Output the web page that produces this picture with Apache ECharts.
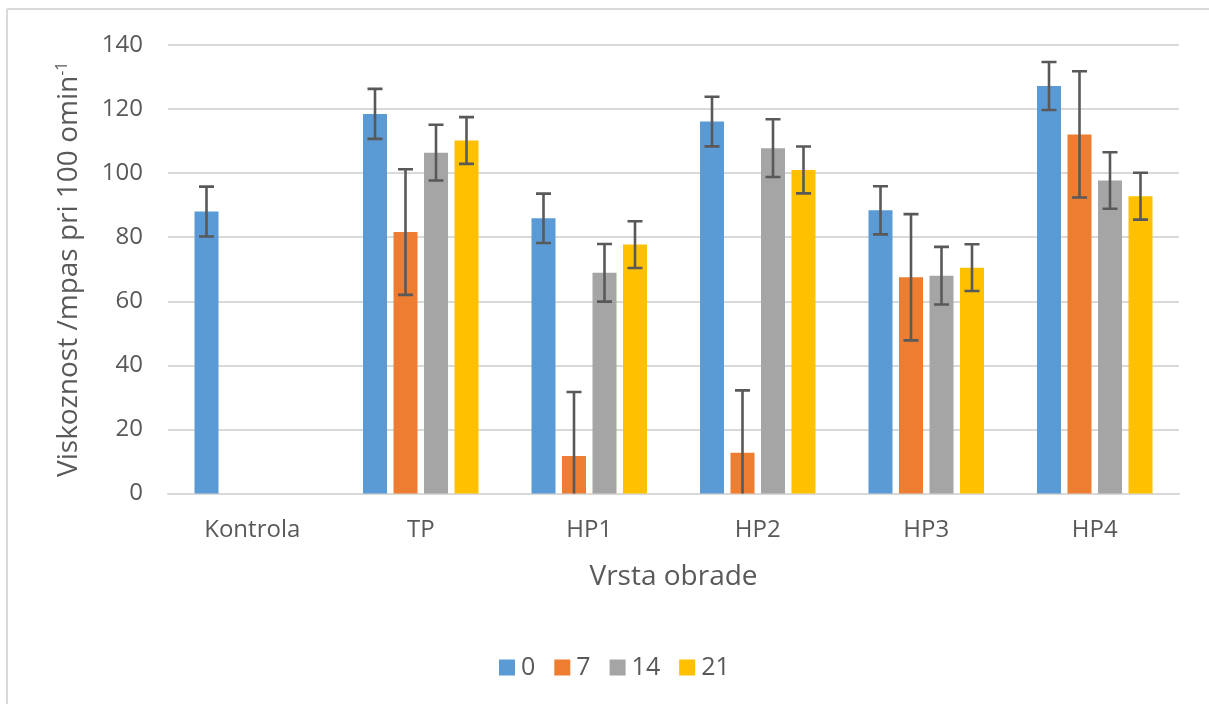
<!DOCTYPE html>
<html>
<head>
<meta charset="utf-8">
<script src="https://cdn.jsdelivr.net/npm/echarts@6/dist/echarts.min.js"></script>
<style>
html,body{margin:0;padding:0;background:#fff;}
#chart{width:1209px;height:704px;}
</style>
</head>
<body>
<div id="chart"></div>
<script>
var categories = ['Kontrola', 'TP', 'HP1', 'HP2', 'HP3', 'HP4'];
var seriesNames = ['0', '7', '14', '21'];
var values0  = [88.0, 118.5, 85.9, 116.1, 88.4, 127.2];
var values7  = [null, 81.6, 11.7, 12.7, 67.5, 112.1];
var values14 = [null, 106.4, 68.9, 107.8, 68.0, 97.7];
var values21 = [null, 110.2, 77.7, 101.0, 70.5, 92.8];
var err0  = [7.8, 7.8, 7.7, 7.75, 7.5, 7.5];
var err7  = [null, 19.6, 20.0, 19.5, 19.7, 19.7];
var err14 = [null, 8.7, 9.0, 9.0, 9.0, 8.8];
var err21 = [null, 7.3, 7.3, 7.3, 7.3, 7.3];
var yTicks = [0, 20, 40, 60, 80, 100, 120, 140];

var colors = ['#5b9bd5', '#ed7d31', '#a5a5a5', '#ffc000'];
var allValues = [values0, values7, values14, values21];
var allErr = [err0, err7, err14, err21];
var BAR_W = 24;
var GAP = 6.5;
var FONT = '"Open Sans", Lato, sans-serif';

var series = [];
seriesNames.forEach(function (name, i) {
  series.push({
    name: name,
    type: 'bar',
    data: allValues[i],
    barWidth: BAR_W,
    barGap: (GAP / BAR_W * 100) + '%',
    itemStyle: { color: colors[i] }
  });
});
seriesNames.forEach(function (name, i) {
  var data = [];
  allValues[i].forEach(function (v, k) {
    if (v != null && allErr[i][k] != null) data.push([k, v, allErr[i][k]]);
  });
  series.push({
    type: 'custom',
    clip: true,
    z: 10,
    data: data,
    renderItem: function (params, api) {
      var k = api.value(0), v = api.value(1), e = api.value(2);
      var offset = (i - 1.5) * (BAR_W + GAP);
      var top = api.coord([k, v + e]);
      var bot = api.coord([k, v - e]);
      var x = top[0] + offset;
      var cap = 7.5;
      var st = { stroke: '#595959', lineWidth: 2.6 };
      return {
        type: 'group',
        children: [
          { type: 'line', shape: { x1: x, y1: top[1], x2: x, y2: bot[1] }, style: st },
          { type: 'line', shape: { x1: x - cap, y1: top[1], x2: x + cap, y2: top[1] }, style: st },
          { type: 'line', shape: { x1: x - cap, y1: bot[1], x2: x + cap, y2: bot[1] }, style: st }
        ]
      };
    }
  });
});

var chart = echarts.init(document.getElementById('chart'));
chart.setOption({
  animation: false,
  backgroundColor: '#ffffff',
  textStyle: { fontFamily: FONT },
  graphic: [
    { type: 'line', shape: { x1: 7, y1: 9, x2: 7, y2: 704 }, style: { stroke: '#d9d9d9', lineWidth: 2 } },
    { type: 'line', shape: { x1: 7, y1: 9, x2: 1209, y2: 9 }, style: { stroke: '#d9d9d9', lineWidth: 2 } }
  ],
  legend: {
    data: seriesNames,
    top: 650,
    left: 494,
    itemWidth: 16,
    itemHeight: 16,
    itemGap: 19,
    icon: 'rect',
    textStyle: { color: '#595959', fontSize: 25, fontFamily: FONT, padding: [0, 0, 0, 1] }
  },
  grid: { left: 168, right: 30, top: 45, bottom: 210.5, containLabel: false },
  xAxis: {
    type: 'category',
    data: categories,
    name: 'Vrsta obrade',
    nameLocation: 'middle',
    nameGap: 70,
    nameTextStyle: { color: '#595959', fontSize: 28, fontFamily: FONT },
    axisLine: { show: true, lineStyle: { color: '#d9d9d9', width: 2 } },
    axisTick: { show: false },
    axisLabel: { color: '#595959', fontSize: 24, margin: 25, fontFamily: FONT }
  },
  yAxis: {
    type: 'value',
    min: yTicks[0],
    max: yTicks[yTicks.length - 1],
    interval: 20,
    name: 'Viskoznost /mpas pri 100 omin{sup|-1}',
    nameLocation: 'middle',
    nameGap: 84,
    nameRotate: 90,
    nameTextStyle: {
      color: '#595959', fontSize: 28, fontFamily: FONT,
      rich: { sup: { fontSize: 16, verticalAlign: 'top', padding: [0, 0, 14, 0], color: '#595959', fontFamily: FONT } }
    },
    axisLine: { show: false },
    axisTick: { show: false },
    axisLabel: { color: '#595959', fontSize: 24, margin: 25, fontFamily: FONT },
    splitLine: { lineStyle: { color: '#d9d9d9', width: 2 } }
  },
  series: series
});
</script>
</body>
</html>
